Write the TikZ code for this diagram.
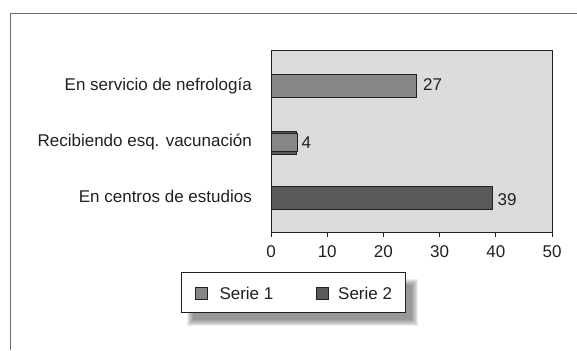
\documentclass[tikz,border=0pt]{standalone}
\usepackage{fontspec}
\setmainfont{Liberation Sans}
\usetikzlibrary{positioning}
\definecolor{plotbg}{HTML}{DCDCDD}
\definecolor{serA}{HTML}{858688}
\definecolor{serB}{HTML}{58595B}
\definecolor{edge}{HTML}{231F20}
\definecolor{frame}{HTML}{6D6E70}
\tikzstyle{bar} = [draw=edge, line width=0.9pt]
\tikzstyle{lbl} = [font=\fontsize{17}{20}\selectfont, inner sep=0pt, text=edge]
\tikzstyle{cat} = [lbl, anchor=base east]
\tikzstyle{val} = [lbl, anchor=base west]
\tikzstyle{key} = [draw=edge, line width=0.9pt, minimum size=12pt, inner sep=0pt]

\begin{document}
\begin{tikzpicture}[x=1pt, y=-1pt]
	\useasboundingbox (0,0) rectangle (577,350);
	
	% outer frame
	\draw [frame, line width=1pt] (10,350) |- (577,13.3);
	
	% plot area
	\draw [draw=edge, fill=plotbg, line width=0.9pt] (271,50) rectangle (552,232);
	
	% bars
	\draw [bar, fill=serA] (271,74) rectangle (416,97.3);
	\draw [bar, fill=serB] (271,131) rectangle (296.5,154);
	\draw [bar, fill=serA] (271,133.5) rectangle (297.5,151);
	\draw [bar, fill=serB] (271,186) rectangle (492,209.3);
	
	% category labels
	\node [cat] (c1) at (252,90.7) {En servicio de nefrología};
	\node [cat] (c2) at (252,146.9) {Recibiendo esq. vacunación};
	\node [cat] (c3) at (252,202.9) {En centros de estudios};
	
	% values
	\node [val] (v1) at (423,91) {27};
	\node [val] (v2) at (301.5,148.3) {4};
	\node [val] (v3) at (497.5,205) {39};
	
	% axis ticks
	\foreach \v in {0,10,...,50}
	\draw [draw=edge, line width=0.9pt] (271+5.62*\v,232) -- (271+5.62*\v,237)
	node [lbl, anchor=base] (t\v) at (271+5.62*\v,257.3) {\v};
	
	% legend with soft shadow
	\foreach \s in {0,...,6}
	\fill [black, opacity=0.07] (187+\s,279+\s) rectangle (418-\s,326-\s);
	\node [draw=edge, fill=white, line width=0.9pt, minimum width=224pt,
	minimum height=40pt] (leg) at (293,292.5) {};
	\node [key, fill=serA] (k1) at (201.7,293) {};
	\node [lbl, anchor=base west] (s1) at (219.3,299.3) {Serie 1};
	\node [key, fill=serB] (k2) at (322.5,293) {};
	\node [lbl, anchor=base west] (s2) at (338,299.3) {Serie 2};
	
\end{tikzpicture}
\end{document}
